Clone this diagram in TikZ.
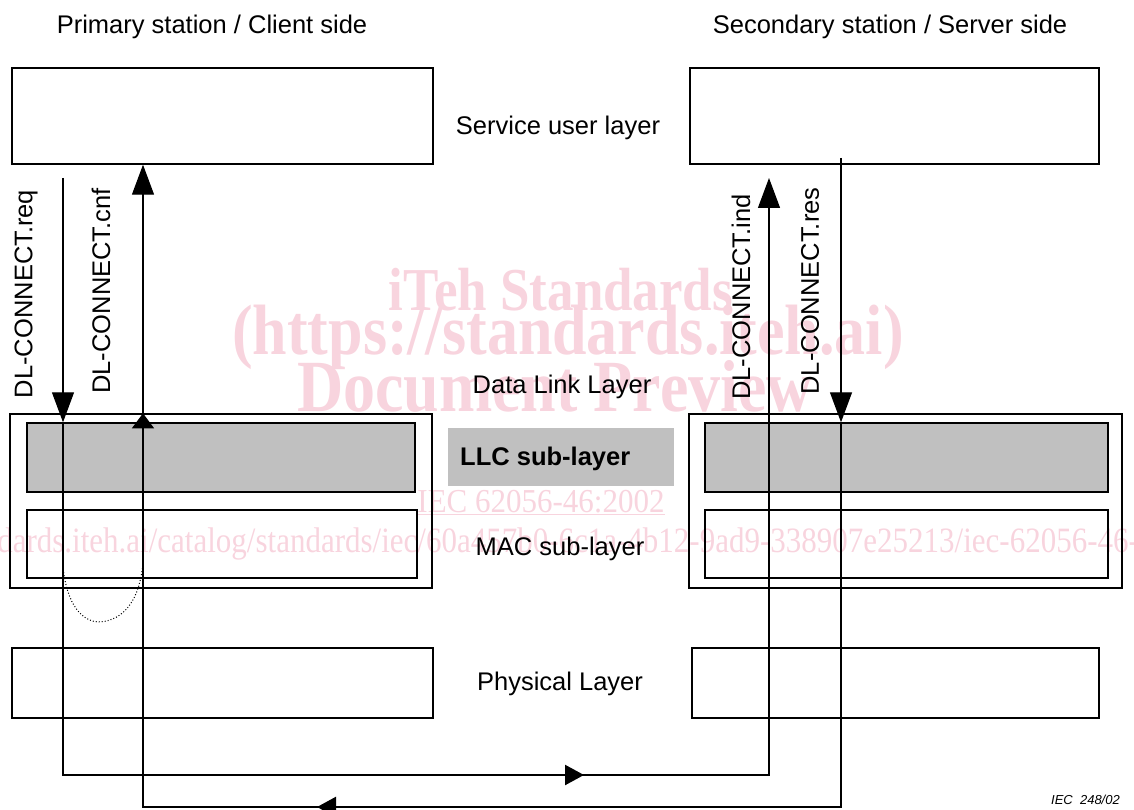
\documentclass[tikz,border=0pt]{standalone}
\usepackage{fontspec}
\setmainfont{Liberation Sans}
\newfontfamily\wmfont{Liberation Serif}
\usetikzlibrary{arrows.meta}
\definecolor{llcgray}{RGB}{192,192,192}
\definecolor{wmpink}{RGB}{248,212,222}

\begin{document}
\begin{tikzpicture}[x=1pt,y=-1pt,
  box/.style={draw, line width=1.4pt, inner sep=0pt},
  llcbox/.style={box, fill=llcgray},
  lbl/.style={font=\fontsize{25.5}{30}\selectfont, inner sep=0pt},
  vlbl/.style={lbl, rotate=90},
  conn/.style={line width=1.2pt},
  shaft/.style={line width=2.4pt},
  bigtip/.style={-{Triangle[width=22pt,length=30pt]}},
  smalltip/.style={-{Triangle[width=20pt,length=19pt]}},
  wm/.style={text=wmpink, inner sep=0pt},
]
\useasboundingbox (0,0) rectangle (1134,810);

% background watermark lettering
\node[wm, font=\wmfont\bfseries\fontsize{53}{60}\selectfont] (wm1) at (561,290) {\scalebox{1}[1.15]{iTeh Standards}};
\node[wm, font=\wmfont\bfseries\fontsize{62}{70}\selectfont] (wm2) at (568,337) {\scalebox{1}[1.15]{(https://standards.iteh.ai)}};
\node[wm, font=\wmfont\bfseries\fontsize{64}{72}\selectfont] (wm3) at (555,386) {\scalebox{1}[1.15]{Document Preview}};
\node[wm, font=\wmfont\fontsize{31}{34}\selectfont, anchor=base] (wm4) at (541,512) {\scalebox{1}[1.08]{\underline{IEC 62056-46:2002}}};
\node[wm, font=\wmfont\fontsize{31}{34}\selectfont, anchor=base west] (wm5) at (-139,552) {\scalebox{1}[1.15]{https://standards.iteh.ai/catalog/standards/iec/60a457b0-6c1a-4b12-9ad9-338907e25213/iec-62056-46-2002}};

% station headings
\node[lbl] (hdL) at (212,27) {Primary station / Client side};
\node[lbl] (hdR) at (890,27) {Secondary station / Server side};

% service user layer
\node[box, minimum width=421pt, minimum height=96pt] (sulL) at (222.5,116) {};
\node[box, minimum width=409pt, minimum height=96pt] (sulR) at (894.5,116) {};
\node[lbl, anchor=base] (sulT) at (558,135) {Service user layer};

% data link layer with LLC and MAC sub-layers
\node[lbl] (dllT) at (562,387) {Data Link Layer};
\node[box, minimum width=422pt, minimum height=174pt] (dllL) at (221,501) {};
\node[box, minimum width=433pt, minimum height=174pt] (dllR) at (905.5,501) {};
\node[llcbox, minimum width=388pt, minimum height=69pt] (llcL) at (221,457.5) {};
\node[llcbox, minimum width=403pt, minimum height=69pt] (llcR) at (906.5,457.5) {};
\node[box, minimum width=390pt, minimum height=68pt] (macL) at (222,544) {};
\node[box, minimum width=403pt, minimum height=68pt] (macR) at (906.5,544) {};
\node[fill=llcgray, minimum width=226pt, minimum height=58pt, inner sep=0pt] (llcT) at (561,457) {};
\node[lbl, font=\fontsize{25.5}{30}\selectfont\bfseries, anchor=west] at (460,459) {LLC sub-layer};
\node[lbl, anchor=base] (macT) at (560,555) {MAC sub-layer};

% physical layer
\node[box, minimum width=421pt, minimum height=70pt] (phyL) at (222.5,683) {};
\node[box, minimum width=407pt, minimum height=70pt] (phyR) at (895.5,683) {};
\node[lbl] (phyT) at (560,684) {Physical Layer};

% primitive labels
\node[vlbl] (reqT) at (26,294) {DL-CONNECT.req};
\node[vlbl] (cnfT) at (101,291) {DL-CONNECT.cnf};
\node[vlbl] (indT) at (741,297) {DL-CONNECT.ind};
\node[vlbl] (resT) at (810,291) {DL-CONNECT.res};

% route points of the primitives
\coordinate (reqTop) at (63,178);
\coordinate (reqTurn) at (63,775);
\coordinate (indTurn) at (769,775);
\coordinate (indTop) at (769,178);
\coordinate (resTop) at (841,158);
\coordinate (resTurn) at (841,807);
\coordinate (cnfTurn) at (143,807);
\coordinate (fwdA) at (525,775);
\coordinate (fwdB) at (584,775);
\coordinate (bwdA) at (375,807);
\coordinate (bwdB) at (317,807);

% request -> indication
\draw[conn, bigtip] (reqTop) -- (reqTop |- llcL.north);
\draw[conn, bigtip] (reqTop |- llcL.north) -- (reqTurn) -- (indTurn) -- (indTop);
\draw[shaft, smalltip] (fwdA) -- (fwdB);

% response -> confirm
\draw[conn, bigtip] (resTop) -- (resTop |- llcR.north);
\draw[conn, bigtip] (resTop |- llcR.north) -- (resTurn) -- (cnfTurn) -- (cnfTurn |- sulL.south);
\draw[shaft, smalltip] (bwdA) -- (bwdB);

% local loop through the MAC sub-layer
\draw[line width=1pt, dotted, -{Triangle[width=22pt,length=15pt]}]
  (reqTop |- llcL.north) -- (63,567)
  .. controls (67,605) and (82,622) .. (100,622)
  .. controls (124,620) and (140,600) .. (143,562)
  -- (cnfTurn |- dllL.north);

% figure reference
\node[font=\fontsize{13}{15}\selectfont\itshape, anchor=east, inner sep=0pt] (figref) at (1120,800) {IEC\ \ 248/02};
\end{tikzpicture}
\end{document}
